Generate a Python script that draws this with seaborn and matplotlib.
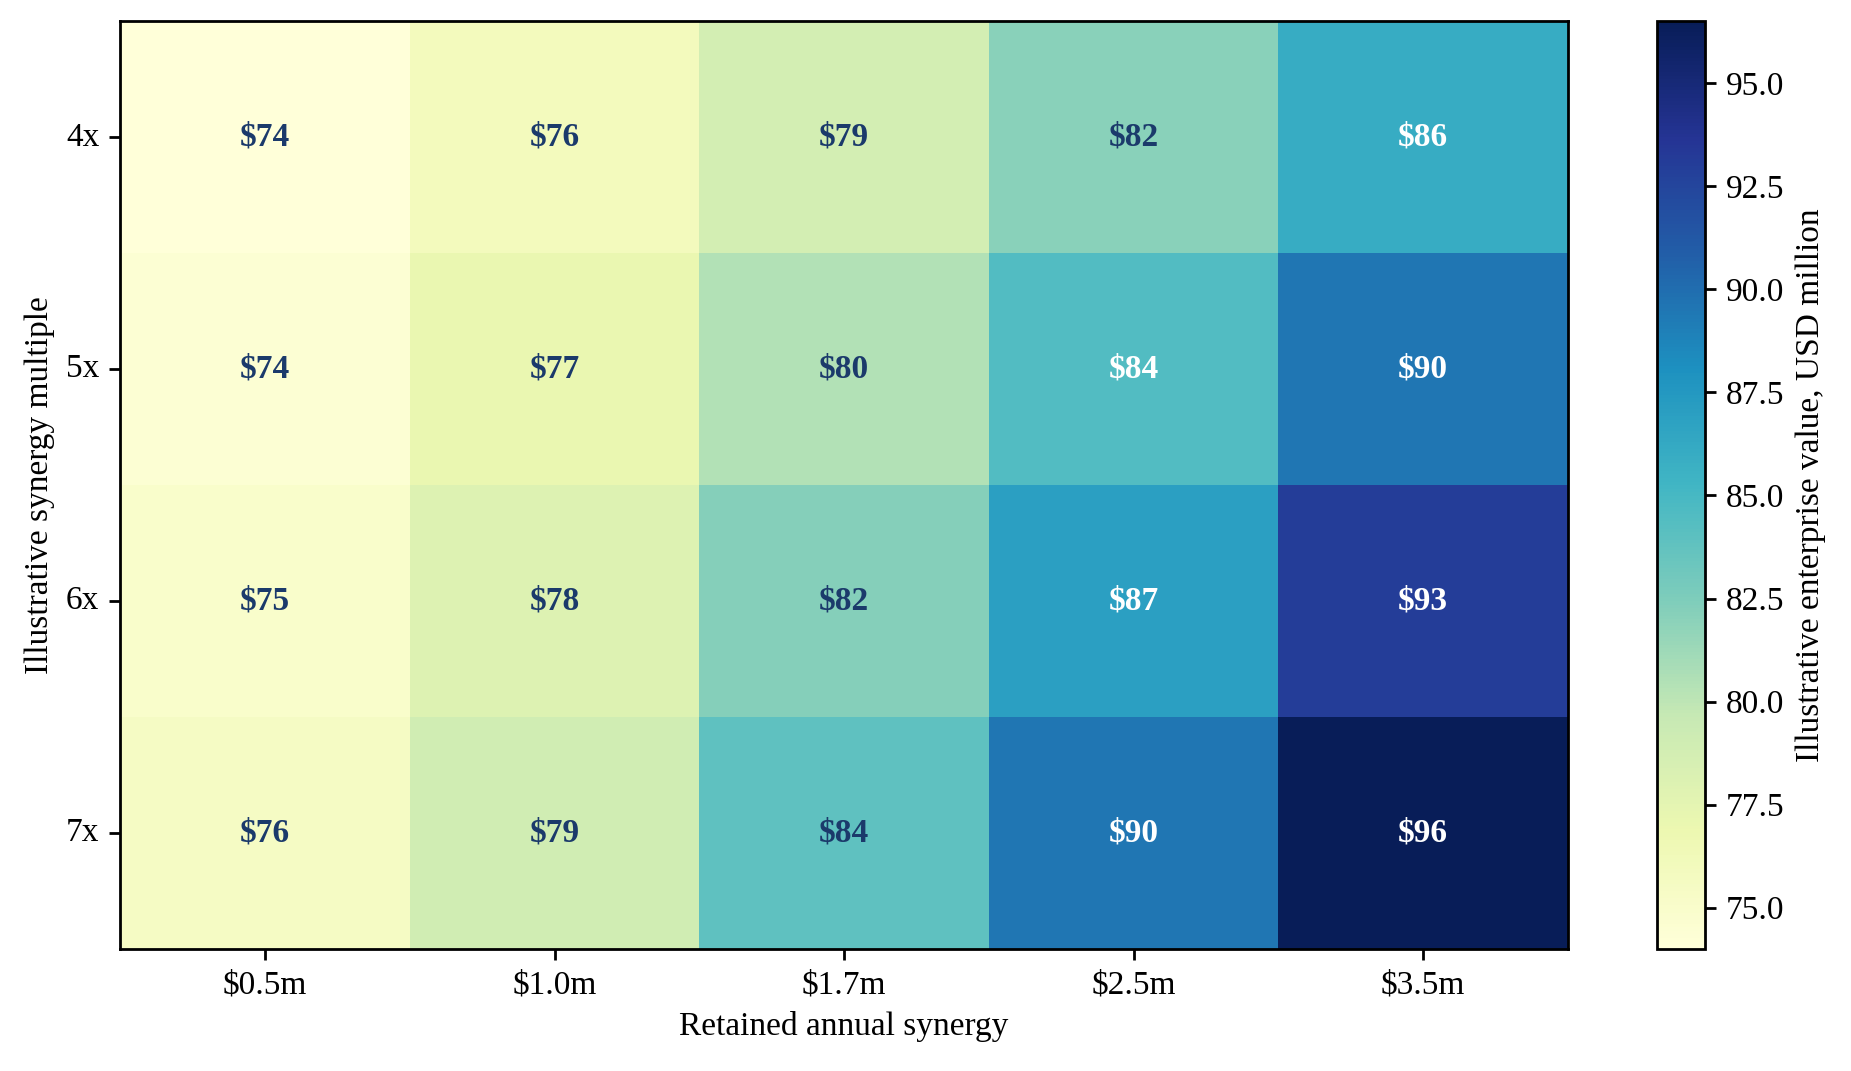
import numpy as np
import pandas as pd
import matplotlib
matplotlib.use("Agg")
import matplotlib.pyplot as plt
import seaborn as sns

# data (USD million)
synergy_labels = ["$0.5m", "$1.0m", "$1.7m", "$2.5m", "$3.5m"]
multiple_labels = ["4x", "5x", "6x", "7x"]
ev_4x = [74.0, 76.0, 78.8, 82.0, 86.0]
ev_5x = [74.5, 77.0, 80.5, 84.5, 89.5]
ev_6x = [75.0, 78.0, 82.2, 87.0, 93.0]
ev_7x = [75.5, 79.0, 83.9, 89.5, 96.5]

df = pd.DataFrame([ev_4x, ev_5x, ev_6x, ev_7x],
                  index=multiple_labels, columns=synergy_labels)

sns.set_style("white")
plt.rcParams["font.family"] = ["Liberation Serif", "DejaVu Serif"]
plt.rcParams["font.size"] = 12
for k in ["text.color", "axes.labelcolor", "xtick.color", "ytick.color"]:
    plt.rcParams[k] = "black"

fig = plt.figure(figsize=(9.255, 5.355), dpi=200)
ax = fig.add_axes([0.065, 0.114, 0.782, 0.866])
cax = fig.add_axes([0.895, 0.114, 0.026, 0.866])

sns.heatmap(df, cmap="YlGnBu", vmin=74, vmax=96.5, ax=ax, cbar_ax=cax,
            annot=False, cbar_kws={"label": "Illustrative enterprise value, USD million"})

# annotations: white on dark cells
for i, row in enumerate(df.values):
    for j, v in enumerate(row):
        col = "white" if v > 84.2 else "#1b3a6b"
        ax.text(j + 0.5, i + 0.5, f"${v:.0f}", ha="center", va="center",
                fontsize=12, fontweight="bold", color=col)

ax.set_xlabel("Retained annual synergy", color="black")
ax.set_ylabel("Illustrative synergy multiple", color="black")
ax.tick_params(axis="both", length=4, width=1, bottom=True, left=True,
               colors="black")
ax.set_yticklabels(multiple_labels, rotation=0)
ax.set_xticklabels(synergy_labels, rotation=0)
for s in ax.spines.values():
    s.set_visible(True)
    s.set_linewidth(1)
    s.set_color("black")

cax.tick_params(length=4, width=1, right=True, colors="black")
cax.yaxis.set_major_formatter(matplotlib.ticker.FormatStrFormatter("%.1f"))
cax.yaxis.label.set_color("black")
cb = ax.collections[0].colorbar
cb.outline.set_visible(True)
cb.outline.set_linewidth(1)
cb.outline.set_edgecolor("black")

fig.savefig("out.png", dpi=200)
